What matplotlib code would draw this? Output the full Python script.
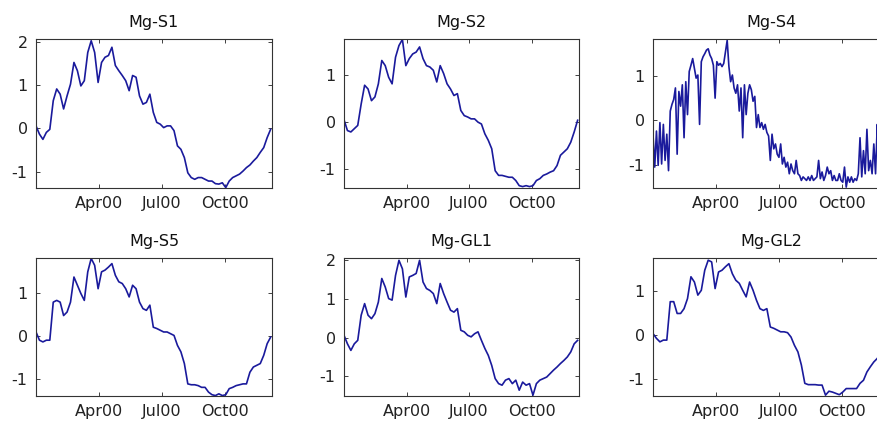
import numpy as np
import matplotlib
matplotlib.use('Agg')
import matplotlib.pyplot as plt
import matplotlib.dates as mdates

plt.rcParams['font.family'] = ['DejaVu Sans']

# samples every 5 days from 2000-01-01
days = np.arange(0, 341, 5)
# Mg-S4 is noisier, sampled every 2.5 days
days_s4 = np.arange(0, 341, 2.5)

s1 = [0.06, -0.13, -0.25, -0.09, -0.02, 0.64, 0.91, 0.79, 0.45, 0.75,
      1.02, 1.52, 1.33, 0.98, 1.10, 1.75, 2.02, 1.75, 1.06, 1.52,
      1.64, 1.68, 1.87, 1.45, 1.33, 1.22, 1.10, 0.87, 1.22, 1.18,
      0.75, 0.56, 0.60, 0.79, 0.37, 0.14, 0.10, 0.02, 0.06, 0.06,
      -0.05, -0.40, -0.48, -0.67, -1.02, -1.13, -1.17, -1.13, -1.13, -1.17,
      -1.21, -1.21, -1.27, -1.28, -1.25, -1.36, -1.21, -1.13, -1.09, -1.05,
      -0.98, -0.90, -0.84, -0.75, -0.67, -0.55, -0.44, -0.21, -0.02]

s2 = [0.05, -0.18, -0.21, -0.14, -0.07, 0.39, 0.79, 0.71, 0.46, 0.54,
      0.82, 1.32, 1.21, 0.96, 0.82, 1.39, 1.64, 1.77, 1.21, 1.36,
      1.46, 1.50, 1.61, 1.36, 1.21, 1.18, 1.11, 0.86, 1.21, 1.04,
      0.82, 0.71, 0.57, 0.61, 0.25, 0.14, 0.11, 0.07, 0.07, 0.00,
      -0.04, -0.25, -0.39, -0.57, -1.04, -1.14, -1.14, -1.16, -1.18, -1.18,
      -1.25, -1.36, -1.38, -1.36, -1.38, -1.36, -1.25, -1.21, -1.14, -1.11,
      -1.07, -1.04, -0.93, -0.71, -0.64, -0.57, -0.43, -0.21, 0.04]

s4 = [-0.31, -1.05, -0.24, -1.01, -0.05, -0.98, -0.09, -0.90, -0.31, -1.13,
      0.21, 0.36, 0.47, 0.73, -0.76, 0.65, 0.32, 0.80, -0.39, 0.87,
      0.13, 1.10, 1.24, 1.39, 1.17, 0.95, 1.02, -0.09, 1.32, 1.43,
      1.50, 1.58, 1.61, 1.47, 1.39, 1.24, 0.50, 1.32, 1.24, 1.28,
      1.21, 1.28, 1.54, 1.80, 1.21, 0.87, 1.02, 0.73, 0.61, 0.80,
      0.21, 0.73, -0.39, 0.80, 0.13, 0.61, 0.80, 0.69, 0.43, 0.54,
      -0.16, 0.13, -0.16, -0.05, -0.20, -0.09, -0.27, -0.35, -0.90, -0.31,
      -0.64, -0.53, -0.76, -0.83, -0.53, -0.98, -0.83, -1.05, -0.94, -1.20,
      -0.98, -1.13, -1.20, -0.90, -1.20, -1.24, -1.35, -1.27, -1.31, -1.35,
      -1.27, -1.35, -1.24, -1.35, -1.31, -1.27, -0.90, -1.31, -1.16, -1.35,
      -1.24, -1.05, -1.20, -1.13, -1.35, -1.24, -1.35, -1.35, -1.20, -1.35,
      -1.39, -1.05, -1.50, -1.27, -1.39, -1.27, -1.39, -1.31, -1.35, -1.20,
      -0.39, -1.27, -0.68, -1.20, -0.20, -1.13, -0.90, -1.20, -0.53, -1.20,
      -0.09, -0.90, -0.31, -1.05, -0.16, -0.83, 0.06]

s5 = [0.09, -0.10, -0.14, -0.10, -0.10, 0.78, 0.82, 0.78, 0.47, 0.55,
      0.78, 1.36, 1.17, 0.98, 0.82, 1.48, 1.79, 1.63, 1.09, 1.48,
      1.52, 1.59, 1.67, 1.40, 1.25, 1.21, 1.09, 0.90, 1.17, 1.09,
      0.78, 0.63, 0.59, 0.71, 0.20, 0.17, 0.13, 0.09, 0.09, 0.05,
      0.01, -0.22, -0.37, -0.64, -1.11, -1.13, -1.13, -1.15, -1.19, -1.19,
      -1.30, -1.36, -1.38, -1.34, -1.38, -1.36, -1.22, -1.19, -1.15, -1.13,
      -1.11, -1.11, -0.84, -0.72, -0.68, -0.64, -0.45, -0.18, -0.03]

gl1 = [0.06, -0.16, -0.33, -0.16, -0.07, 0.58, 0.88, 0.58, 0.49, 0.62,
       0.92, 1.53, 1.31, 1.01, 0.97, 1.61, 2.00, 1.78, 1.05, 1.57,
       1.61, 1.66, 2.00, 1.44, 1.27, 1.22, 1.14, 0.88, 1.40, 1.14,
       0.92, 0.71, 0.66, 0.75, 0.19, 0.15, 0.06, 0.02, 0.10, 0.15,
       -0.07, -0.28, -0.46, -0.72, -1.06, -1.19, -1.23, -1.10, -1.06, -1.19,
       -1.10, -1.36, -1.15, -1.23, -1.19, -1.49, -1.19, -1.10, -1.06, -1.02,
       -0.93, -0.84, -0.76, -0.67, -0.59, -0.50, -0.37, -0.16, -0.07]

gl2 = [0.03, -0.08, -0.16, -0.12, -0.12, 0.76, 0.76, 0.49, 0.49, 0.60,
       0.83, 1.33, 1.21, 0.91, 1.02, 1.48, 1.71, 1.67, 1.06, 1.44,
       1.48, 1.56, 1.63, 1.40, 1.25, 1.18, 1.02, 0.87, 1.21, 1.02,
       0.79, 0.60, 0.56, 0.60, 0.18, 0.15, 0.11, 0.07, 0.07, 0.05,
       -0.05, -0.24, -0.39, -0.69, -1.11, -1.14, -1.14, -1.14, -1.15, -1.15,
       -1.38, -1.29, -1.31, -1.34, -1.37, -1.31, -1.23, -1.23, -1.23, -1.23,
       -1.11, -1.04, -0.85, -0.73, -0.62, -0.54, -0.40, -0.20, 0.00]

titles = ['Mg-S1', 'Mg-S2', 'Mg-S4', 'Mg-S5', 'Mg-GL1', 'Mg-GL2']
series = [s1, s2, s4, s5, gl1, gl2]
ylims = [(-1.37, 2.06), (-1.41, 1.78), (-1.52, 1.83),
         (-1.39, 1.80), (-1.51, 2.06), (-1.40, 1.76)]
tick_dates = ['2000-04-01', '2000-07-01', '2000-10-01']

W, H = 878, 423
# axes boxes in pixels: left, top, right, bottom
boxes = [(36, 39, 272, 188), (344, 39, 579, 188), (653, 39, 889, 188),
         (36, 258, 272, 396), (344, 258, 579, 396), (653, 258, 889, 396)]

t0 = mdates.date2num(np.datetime64('2000-01-01'))
ticks = [mdates.date2num(np.datetime64(d)) for d in tick_dates]
line_c = '#1a1a9c'

fig = plt.figure(figsize=(W / 100, H / 100), dpi=100)
for i in range(6):
    l, t, r, b = boxes[i]
    ax = fig.add_axes([l / W, 1 - b / H, (r - l) / W, (b - t) / H])
    x = t0 + (days_s4 if titles[i] == 'Mg-S4' else days)
    ax.plot(x, series[i], color=line_c, lw=1.2)
    ax.set_xticks(ticks)
    ax.xaxis.set_major_formatter(mdates.DateFormatter('%b%y'))
    ax.set_yticks([-1, 0, 1, 2])
    ax.set_yticklabels(['-1', '0', '1', '2'])
    # limits after ticks, otherwise set_yticks widens the view
    ax.set_xlim(t0, t0 + 342)
    ax.set_ylim(ylims[i])
    ax.tick_params(direction='in', length=3, width=0.6, top=True, right=True,
                   labelsize=11.5, pad=6, colors='#222222')
    for sp in ax.spines.values():
        sp.set_color('#333333')
        sp.set_linewidth(0.8)
    ax.set_title(titles[i], fontsize=11.5, pad=9, color='#111111')

fig.savefig('out.png', dpi=100)
